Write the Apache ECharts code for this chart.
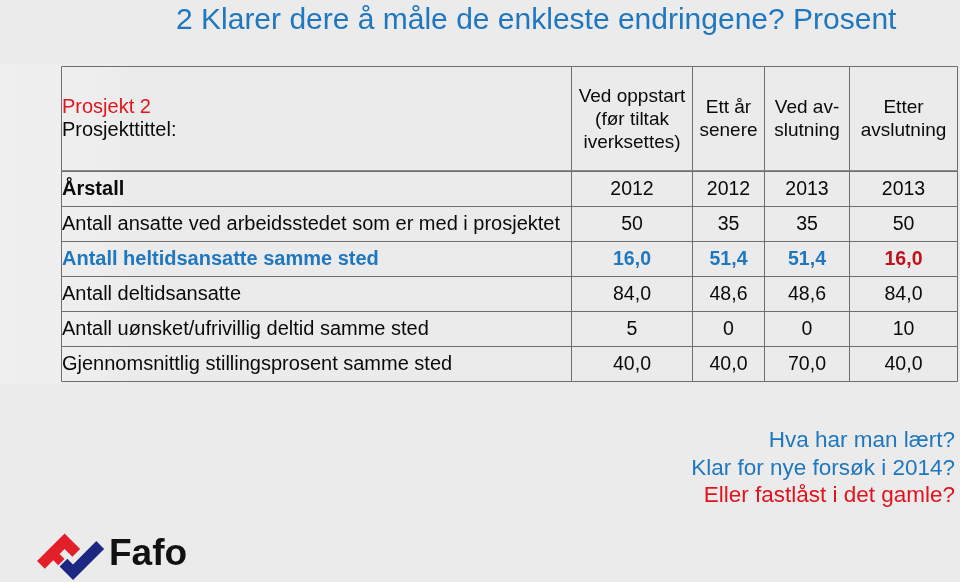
<!DOCTYPE html>
<html><head><meta charset="utf-8">
<script src="https://cdn.jsdelivr.net/npm/echarts@6/dist/echarts.min.js"></script>
<style>html,body{margin:0;padding:0;background:#ebebeb}#c{width:960px;height:582px}</style>
</head><body><div id="c"></div>
<script>
// ---------- data ----------
const titleText = '2 Klarer dere å måle de enkleste endringene? Prosent';
const projectName = 'Prosjekt 2';
const projectTitleLabel = 'Prosjekttittel:';
const columnHeaders = ['Ved oppstart\n(før tiltak\niverksettes)', 'Ett år\nsenere', 'Ved av-\nslutning', 'Etter\navslutning'];
const yearLabel = 'Årstall';
const years = ['2012', '2012', '2013', '2013'];
const rowLabels = [
  'Antall ansatte ved arbeidsstedet som er med i prosjektet',
  'Antall heltidsansatte samme sted',
  'Antall deltidsansatte',
  'Antall uønsket/ufrivillig deltid samme sted',
  'Gjennomsnittlig stillingsprosent samme sted'
];
const ansatte = [50, 35, 35, 50];
const heltidsansatte = [16.0, 51.4, 51.4, 16.0];
const deltidsansatte = [84.0, 48.6, 48.6, 84.0];
const uonsketDeltid = [5, 0, 0, 10];
const stillingsprosent = [40.0, 40.0, 70.0, 40.0];
const rowDecimals = [0, 1, 1, 0, 1];
const questions = ['Hva har man lært?', 'Klar for nye forsøk i 2014?', 'Eller fastlåst i det gamle?'];
const logoText = 'Fafo';

// ---------- layout (table grid in axis units) ----------
const colEdges = [0, 510, 631, 703, 788, 896];
const rowEdges = [0, 105, 140, 175, 210, 245, 280, 315];

const FONT = '"Liberation Sans", Arial, sans-serif';
const BLUE = '#1f77bf';
const RED = '#e3141c';
const DARKRED = '#c0101a';
const BLACK = '#0a0a0a';

const valueRows = [ansatte, heltidsansatte, deltidsansatte, uonsketDeltid, stillingsprosent];
function fmt(v, d) { return v.toFixed(d).replace('.', ','); }

const meta = [];
const cells = [];
function addCell(c, r, m) { meta.push(m); cells.push([c, r, meta.length - 1]); }

addCell(0, 0, { lines: [{ t: projectName, color: RED }, { t: projectTitleLabel, color: BLACK }], align: 'left', header: true, size: 20 });
columnHeaders.forEach((h, i) => addCell(i + 1, 0, { text: h, color: BLACK, align: 'center', header: true, size: 19 }));
addCell(0, 1, { text: yearLabel, color: BLACK, bold: true, align: 'left', size: 20 });
years.forEach((y, i) => addCell(i + 1, 1, { text: y, color: BLACK, align: 'center', size: 19.5 }));
rowLabels.forEach((lab, ri) => {
  const r = ri + 2;
  const hl = ri === 1;
  addCell(0, r, { text: lab, color: hl ? BLUE : BLACK, bold: hl, align: 'left', size: 20 });
  valueRows[ri].forEach((v, ci) => {
    let color = BLACK;
    if (hl) color = ci === 3 ? DARKRED : BLUE;
    addCell(ci + 1, r, { text: fmt(v, rowDecimals[ri]), color: color, bold: hl, align: 'center', size: 19.5 });
  });
});

function renderCell(params, api) {
  const c = api.value(0), r = api.value(1), m = meta[api.value(2)];
  const p0 = api.coord([colEdges[c], rowEdges[r]]);
  const p1 = api.coord([colEdges[c + 1], rowEdges[r + 1]]);
  const x0 = Math.round(p0[0]) + 0.5, y0 = Math.round(p0[1]) + 0.5;
  const x1 = Math.round(p1[0]) + 0.5, y1 = Math.round(p1[1]) + 0.5;
  const cy = (y0 + y1) / 2;
  const children = [{
    type: 'rect', shape: { x: x0, y: y0, width: x1 - x0, height: y1 - y0 },
    style: { fill: 'none', stroke: '#6e6e6e', lineWidth: 1 }
  }];
  if (m.header) {
    children.push({ type: 'line', shape: { x1: x0, y1: y1 - 1, x2: x1, y2: y1 - 1 },
      style: { stroke: '#8a8a8a', lineWidth: 1 } });
  }
  const font = (m.bold ? 'bold ' : '') + m.size + 'px ' + FONT;
  const tx = m.align === 'left' ? x0 + 0.5 : (x0 + x1) / 2;
  if (m.lines) {
    m.lines.forEach((ln, i) => {
      children.push({ type: 'text', style: { text: ln.t, x: tx, y: cy - 11.5 + i * 23, fill: ln.color, font: font,
        align: 'left', textAlign: 'left', verticalAlign: 'middle', textVerticalAlign: 'middle' } });
    });
  } else {
    children.push({ type: 'text', style: { text: m.text, x: tx, y: cy + 0.5, fill: m.color, font: font,
      lineHeight: 23, align: m.align, textAlign: m.align, verticalAlign: 'middle', textVerticalAlign: 'middle' } });
  }
  return { type: 'group', children: children };
}

// ---------- logo geometry ----------
function poly(o, ax, ay, pts) {
  return pts.map(p => [o[0] + p[0] * ax[0] + p[1] * ay[0], o[1] + p[0] * ax[1] + p[1] * ay[1]]);
}
const s2 = Math.SQRT1_2;
const redPts = poly([37, 561], [s2, s2], [s2, -s2],
  [[0, 0], [11, 0], [11, 12], [18, 12], [18, 21], [11, 21], [11, 28], [22, 28], [22, 39], [0, 39]]);
const bluePts = poly([73, 580], [s2, -s2], [-s2, -s2],
  [[0, 0], [44, 0], [44, 11], [11, 11], [11, 19], [0, 19]]);

const chart = echarts.init(document.getElementById('c'), null, { renderer: 'canvas' });
chart.setOption({
  backgroundColor: '#ebebeb',
  animation: false,
  title: {
    text: titleText, left: 171, top: 1,
    textStyle: { fontFamily: FONT, fontSize: 30, fontWeight: 'normal', color: BLUE }
  },
  grid: { left: 61, top: 66, width: 896, height: 315, containLabel: false },
  xAxis: { type: 'value', min: 0, max: 896, show: false },
  yAxis: { type: 'value', min: 0, max: 315, inverse: true, show: false },
  graphic: [
    { type: 'rect', z: -10, shape: { x: 0, y: 64, width: 130, height: 320 },
      style: { fill: new echarts.graphic.LinearGradient(0, 0, 1, 0, [
        { offset: 0, color: '#efefef' }, { offset: 0.7, color: '#eeeeee' }, { offset: 1, color: '#ebebeb' }]) } },
    { type: 'polygon', shape: { points: redPts }, style: { fill: '#e3202a' } },
    { type: 'polygon', shape: { points: bluePts }, style: { fill: '#1b2783' } },
    { type: 'text', style: { text: logoText, x: 109, y: 555, fill: '#111', font: 'bold 37px ' + FONT,
      align: 'left', verticalAlign: 'middle', textAlign: 'left', textVerticalAlign: 'middle' } },
    ...questions.map((q, i) => ({
      type: 'text', style: { text: q, x: 955, y: 441 + i * 27.5, fill: i === 2 ? '#e0141e' : BLUE,
        font: '22.5px ' + FONT, align: 'right', verticalAlign: 'middle', textAlign: 'right', textVerticalAlign: 'middle' }
    }))
  ],
  series: [{
    type: 'custom', coordinateSystem: 'cartesian2d', renderItem: renderCell,
    data: cells, clip: false, silent: true
  }]
});
</script>
</body></html>
